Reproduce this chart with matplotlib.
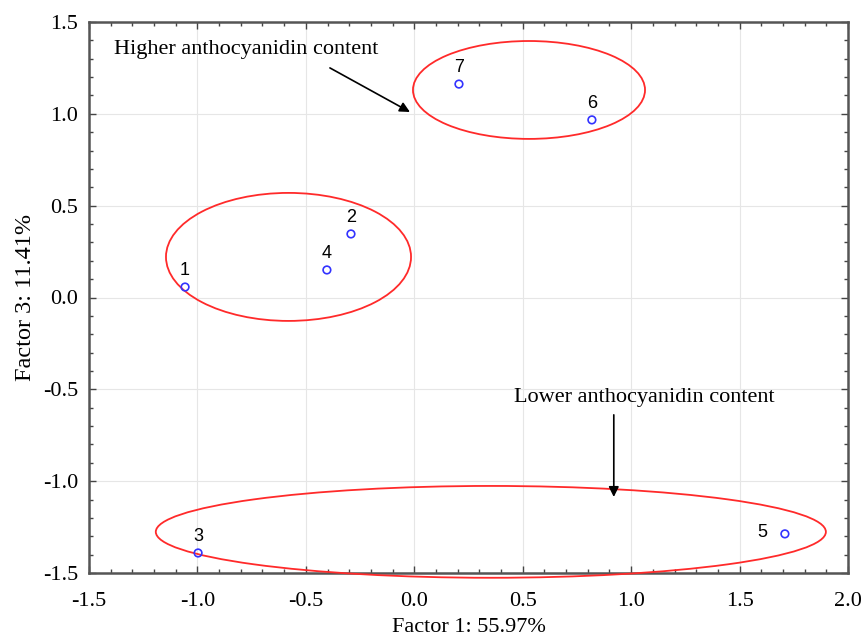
import matplotlib.pyplot as plt
from matplotlib.patches import Ellipse
from matplotlib.ticker import MultipleLocator

# sample scores on factor 1 / factor 3
labels = ['1', '2', '3', '4', '5', '6', '7']
factor1 = [-1.057, -0.292, -0.997, -0.403, 1.709, 0.819, 0.206]
factor3 = [0.057, 0.346, -1.391, 0.150, -1.287, 0.967, 1.162]

# group outlines: centre x, centre y, width, height
groups = [
    (0.529, 1.130, 1.07, 0.533),
    (-0.580, 0.221, 1.13, 0.697),
    (0.353, -1.276, 3.09, 0.50),
]

xticks = [-1.5, -1.0, -0.5, 0.0, 0.5, 1.0, 1.5, 2.0]
yticks = [-1.5, -1.0, -0.5, 0.0, 0.5, 1.0, 1.5]

serif = 'Liberation Serif'
sans = 'Liberation Sans'

fig = plt.figure(figsize=(8.64, 6.41), dpi=100)
ax = fig.add_axes([89 / 864, 1 - 573 / 641, 759 / 864, 551 / 641])

ax.set_xlim(-1.5, 2.0)
ax.set_ylim(-1.5, 1.5)
ax.set_xticks(xticks)
ax.set_xticklabels(['%.1f' % v for v in xticks], family=serif, fontsize=16)
ax.set_yticks(yticks)
ax.set_yticklabels(['%.1f' % v for v in yticks], family=serif, fontsize=16)
ax.xaxis.set_minor_locator(MultipleLocator(0.1))
ax.yaxis.set_minor_locator(MultipleLocator(0.1))
ax.tick_params(which='both', direction='in', top=True, right=True,
               color='#444444', width=1)
ax.tick_params(which='major', length=5)
ax.tick_params(axis='x', which='major', pad=14)
ax.tick_params(axis='y', which='major', pad=8)
ax.tick_params(which='minor', length=3)
for s in ax.spines.values():
    s.set_color('#555555')
    s.set_linewidth(1.8)
ax.grid(True, which='major', color='#e6e6e6', linewidth=0.8)
ax.set_axisbelow(True)

ax.set_xlabel('Factor 1: 55.97%', family=serif, fontsize=16, labelpad=5)
ax.set_ylabel('Factor 3: 11.41%', family=serif, fontsize=17.5, labelpad=5)

ax.scatter(factor1, factor3, s=30, facecolors='none', edgecolors='#3333ff',
           linewidths=1.2, zorder=4)
for x, y, t in zip(factor1, factor3, labels):
    if t == '5':
        ax.text(x - 0.08, y + 0.01, t, family=sans, fontsize=13,
                ha='right', va='center', zorder=5)
    else:
        ax.text(x, y + 0.045, t, family=sans, fontsize=13,
                ha='center', va='bottom', zorder=5)

for cx, cy, w, h in groups:
    ax.add_patch(Ellipse((cx, cy), w, h, fill=False, edgecolor='#ff2a2a',
                         linewidth=1.3, clip_on=False, zorder=3))

arrow = dict(arrowstyle='-|>', color='black', lw=1.2,
             mutation_scale=15, shrinkA=0, shrinkB=0)
ax.text(-0.774, 1.348, 'Higher anthocyanidin content', family=serif,
        fontsize=16, ha='center', va='center')
ax.annotate('', xy=(-0.02, 1.01), xytext=(-0.389, 1.25), arrowprops=arrow)
ax.text(1.059, -0.547, 'Lower anthocyanidin content', family=serif,
        fontsize=16, ha='center', va='center')
ax.annotate('', xy=(0.92, -1.086), xytext=(0.92, -0.639), arrowprops=arrow)

fig.savefig('out.png', dpi=100)
